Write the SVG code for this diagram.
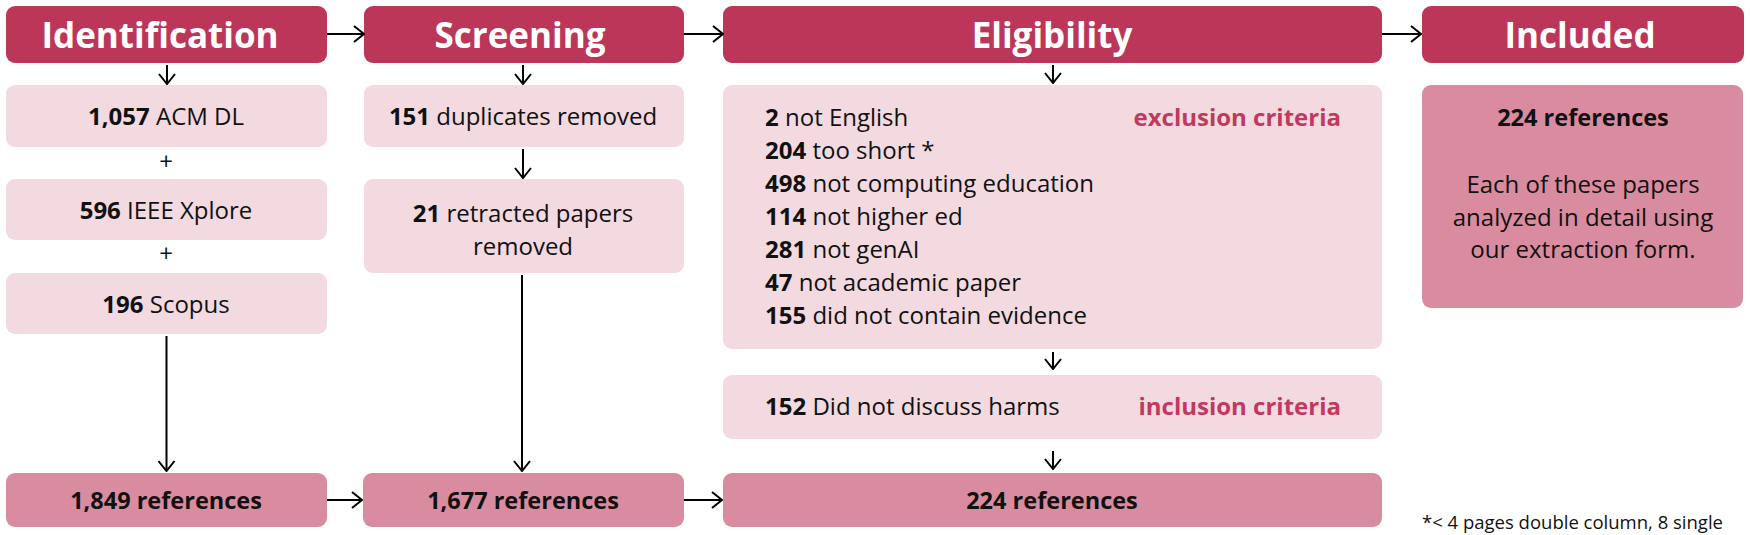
<svg xmlns="http://www.w3.org/2000/svg" width="1750" height="535" viewBox="0 0 1750 535">
<style>
.hdr{fill:#bb3659}
.lt{fill:#f3d9e0}
.md{fill:#d98ca0}
text{font-family:"Open Sans","Noto Sans",sans-serif;fill:#111}
.h{font-size:35px;font-weight:700;fill:#fff;text-anchor:middle}
.t{font-size:24px;text-anchor:middle}
.l{font-size:24px}
.b{font-weight:700}
.crit{font-size:24px;font-weight:700;fill:#c0395f}
.ref{font-size:23.5px;font-weight:700;text-anchor:middle}
.fn{font-size:18.5px}
.c{fill:none;stroke:#000;stroke-width:2}
</style>
<defs>
<marker id="ah" viewBox="0 0 12 18" refX="11" refY="9" markerWidth="12" markerHeight="18" markerUnits="userSpaceOnUse" orient="auto">
<path d="M1,1 L11,9 L1,17" fill="none" stroke="#000" stroke-width="2"/>
</marker>
</defs>
<g id="identification"><rect class="hdr" x="6" y="6" width="321" height="57" rx="9"/><text class="h" x="160" y="48">Identification</text></g>
<g id="screening"><rect class="hdr" x="364" y="6" width="320" height="57" rx="9"/><text class="h" x="520" y="48">Screening</text></g>
<g id="eligibility"><rect class="hdr" x="723" y="6" width="659" height="57" rx="9"/><text class="h" x="1052" y="48">Eligibility</text></g>
<g id="included"><rect class="hdr" x="1422" y="6" width="322" height="57" rx="9"/><text class="h" x="1580" y="48">Included</text></g>
<g id="acm"><rect class="lt" x="6" y="85" width="321" height="62" rx="9"/><text class="t" x="166" y="125"><tspan class="b">1,057</tspan> ACM DL</text></g>
<g id="plus1"><text class="t" x="166" y="170">+</text></g>
<g id="ieee"><rect class="lt" x="6" y="179" width="321" height="61" rx="9"/><text class="t" x="166" y="219"><tspan class="b">596</tspan> IEEE Xplore</text></g>
<g id="plus2"><text class="t" x="166" y="262">+</text></g>
<g id="scopus"><rect class="lt" x="6" y="273" width="321" height="61" rx="9"/><text class="t" x="166" y="313"><tspan class="b">196</tspan> Scopus</text></g>
<g id="dupes"><rect class="lt" x="364" y="85" width="320" height="62" rx="9"/><text class="t" x="523" y="125"><tspan class="b">151</tspan> duplicates removed</text></g>
<g id="retracted"><rect class="lt" x="364" y="179" width="320" height="94" rx="9"/><text class="t" x="523" y="222"><tspan class="b">21</tspan> retracted papers</text><text class="t" x="523" y="255">removed</text></g>
<g id="exclusion"><rect class="lt" x="723" y="85" width="659" height="264" rx="9"/>
<text class="l" x="765" y="126"><tspan class="b">2</tspan> not English</text>
<text class="l" x="765" y="159"><tspan class="b">204</tspan> too short *</text>
<text class="l" x="765" y="192"><tspan class="b">498</tspan> not computing education</text>
<text class="l" x="765" y="225"><tspan class="b">114</tspan> not higher ed</text>
<text class="l" x="765" y="258"><tspan class="b">281</tspan> not genAI</text>
<text class="l" x="765" y="291"><tspan class="b">47</tspan> not academic paper</text>
<text class="l" x="765" y="324"><tspan class="b">155</tspan> did not contain evidence</text>
<text class="crit" x="1341" y="126" text-anchor="end">exclusion criteria</text></g>
<g id="inclusion"><rect class="lt" x="723" y="375" width="659" height="64" rx="9"/><text class="l" x="765" y="415"><tspan class="b">152</tspan> Did not discuss harms</text><text class="crit" x="1341" y="415" text-anchor="end">inclusion criteria</text></g>
<g id="inc-detail"><rect class="md" x="1422" y="85" width="321" height="223" rx="9"/><text class="ref" x="1583" y="126">224 references</text><text class="t" x="1583" y="193">Each of these papers</text><text class="t" x="1583" y="226">analyzed in detail using</text><text class="t" x="1583" y="258">our extraction form.</text></g>
<g id="r1849"><rect class="md" x="6" y="473" width="321" height="54" rx="9"/><text class="ref" x="166" y="509">1,849 references</text></g>
<g id="r1677"><rect class="md" x="363" y="473" width="321" height="54" rx="9"/><text class="ref" x="523" y="509">1,677 references</text></g>
<g id="r224"><rect class="md" x="723" y="473" width="659" height="54" rx="9"/><text class="ref" x="1052" y="509">224 references</text></g>
<g id="footnote"><text class="fn" x="1422" y="529">*&lt; 4 pages double column, 8 single</text></g>
<g id="connectors">
<line class="c" x1="327" y1="34" x2="364" y2="34" marker-end="url(#ah)"/>
<line class="c" x1="684" y1="34" x2="723" y2="34" marker-end="url(#ah)"/>
<line class="c" x1="1382" y1="34" x2="1421" y2="34" marker-end="url(#ah)"/>
<line class="c" x1="167" y1="65" x2="167" y2="84" marker-end="url(#ah)"/>
<line class="c" x1="523" y1="65" x2="523" y2="84" marker-end="url(#ah)"/>
<line class="c" x1="1053" y1="65" x2="1053" y2="83" marker-end="url(#ah)"/>
<line class="c" x1="523" y1="149" x2="523" y2="178" marker-end="url(#ah)"/>
<line class="c" x1="166.5" y1="336" x2="166.5" y2="471" marker-end="url(#ah)"/>
<line class="c" x1="522" y1="275" x2="522" y2="471" marker-end="url(#ah)"/>
<line class="c" x1="1053" y1="352" x2="1053" y2="369" marker-end="url(#ah)"/>
<line class="c" x1="1053" y1="451" x2="1053" y2="469" marker-end="url(#ah)"/>
<line class="c" x1="327" y1="500" x2="362" y2="500" marker-end="url(#ah)"/>
<line class="c" x1="684" y1="500" x2="722" y2="500" marker-end="url(#ah)"/>
</g>
</svg>
